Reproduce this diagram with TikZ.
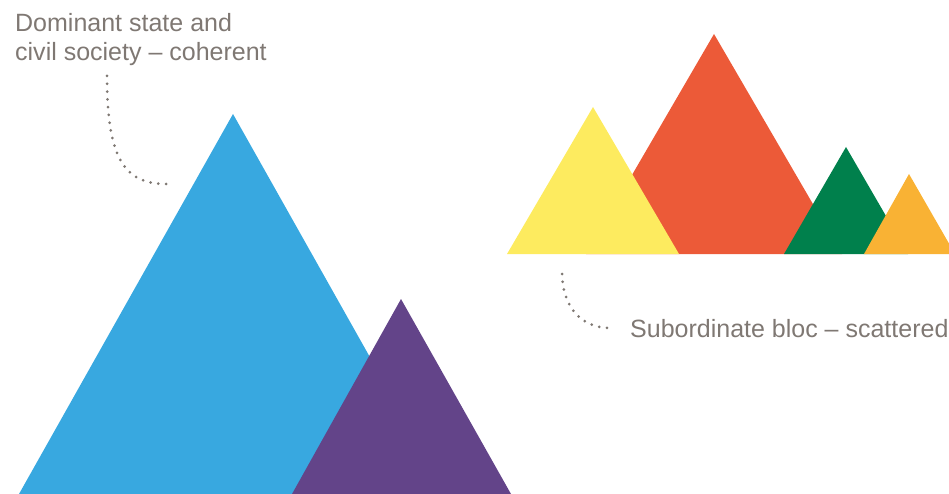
\documentclass[tikz,border=0pt]{standalone}
\usepackage{fontspec}
\setmainfont{Liberation Sans}
\definecolor{cblue}{HTML}{38A8E0}
\definecolor{cpurple}{HTML}{634489}
\definecolor{cyellow}{HTML}{FDEB5F}
\definecolor{cred}{HTML}{EC5A38}
\definecolor{cgreen}{HTML}{00804C}
\definecolor{corange}{HTML}{F9B234}
\definecolor{cgrey}{HTML}{7F7873}
\begin{document}
\begin{tikzpicture}[x=1pt,y=-1pt,
  lbl/.style={text=cgrey,inner sep=0pt,font=\fontsize{25}{29}\selectfont},
  dots/.style={cgrey,line width=3pt,line cap=round,dash pattern=on 0pt off 7.8pt}]
\useasboundingbox (0,0) rectangle (949,494);
\clip (0,0) rectangle (949,494);
% left group
\fill[cblue] (19,494) -- (233,114) -- (447,494) -- cycle;
\fill[cpurple] (292,494) -- (401,299) -- (511,494) -- cycle;
% right group
\fill[cred] (586,254) -- (714,34) -- (842,254) -- cycle;
\fill[cyellow] (507,254) -- (593,107) -- (679,254) -- cycle;
\fill[cgreen] (784,254) -- (846,147) -- (908,254) -- cycle;
\fill[corange] (864,254) -- (909,174) -- (955,254) -- cycle;
% labels
\node[lbl,anchor=north west,align=left] (dom) at (15,13) {Dominant state and\\civil society – coherent};
\node[lbl,anchor=base west] (sub) at (630,337) {Subordinate bloc – scattered};
% dotted leaders
\coordinate (d1a) at (107,76);
\coordinate (d1b) at (167,184);
\coordinate (d2a) at (562,274);
\coordinate (d2b) at (610,328);
\draw[dots] (d1a) .. controls (107,160) and (125,184) .. (d1b);
\draw[dots] (d2a) .. controls (563,308) and (582,328) .. (d2b);
\end{tikzpicture}
\end{document}
